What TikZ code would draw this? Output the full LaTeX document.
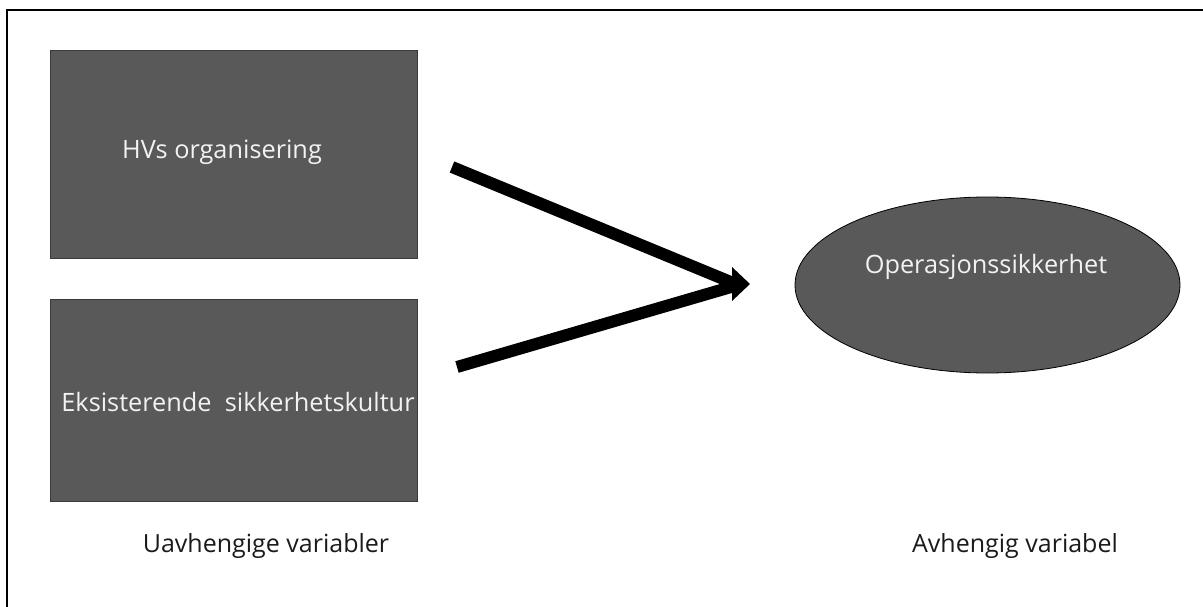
\documentclass[tikz,border=0pt]{standalone}
\usepackage{fontspec}
\setmainfont{Open Sans}
\usetikzlibrary{shapes.geometric}
\definecolor{boxfill}{HTML}{595959}
\definecolor{boxline}{HTML}{3A3A3A}
\definecolor{boxtext}{HTML}{F2F2F2}
\definecolor{labtext}{HTML}{1A1A1A}
\tikzset{
  varbox/.style={draw=boxline, line width=1pt, fill=boxfill},
  intext/.style={text=boxtext, font=\fontsize{25.3}{29}\selectfont, inner sep=0pt},
  labtxt/.style={text=labtext, font=\fontsize{25}{30}\selectfont, inner sep=0pt},
  thickline/.style={line width=12pt, line cap=butt},
}
\begin{document}
\begin{tikzpicture}[x=1pt,y=-1pt]
\useasboundingbox (0,0) rectangle (1203,607);
% outer frame (only top and left edges visible)
\draw[line width=2.5pt] (7,640) -- (7,10) -- (1240,10);
% boxes
\draw[varbox] (50,51) rectangle (417,258);
\draw[varbox] (50,299) rectangle (417,501);
\node[intext] (t1) at (222,152) {HVs organisering};
\node[intext] (t2) at (238,402) {Eksisterende\ \ sikkerhetskultur};
% ellipse
\node[ellipse, draw=black, line width=0.8pt, fill=boxfill, minimum width=385pt, minimum height=176pt, inner sep=0pt] (op) at (987.5,285) {};
\node[intext] (t3) at (986,267) {Operasjonssikkerhet};
% arrows
\coordinate (s1) at (452,167);
\coordinate (s2) at (457,367);
\coordinate (j) at (738,285);
\coordinate (tip) at (750,284);
\draw[thickline] (s1) -- (j);
\draw[thickline] (s2) -- (j);
\fill (tip) -- (732,267) -- (732,301) -- cycle;
% labels
\node[labtxt] (l1) at (266,546) {Uavhengige variabler};
\node[labtxt] (l2) at (1015,546) {Avhengig variabel};
\end{tikzpicture}
\end{document}
